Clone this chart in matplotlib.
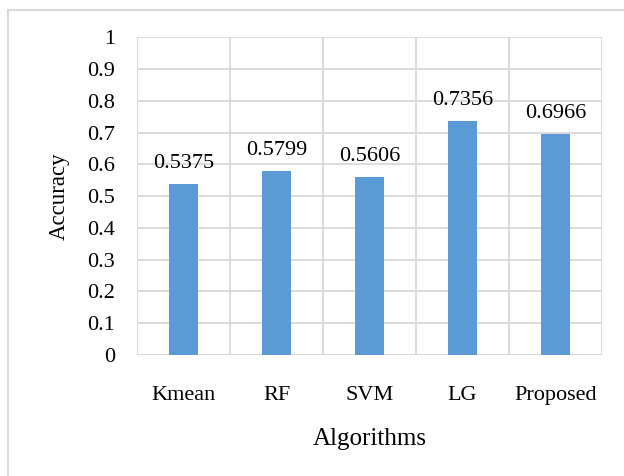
import matplotlib.pyplot as plt
from matplotlib.patches import Rectangle

# data
algorithms = ['Kmean', 'RF', 'SVM', 'LG', 'Proposed']
accuracy = [0.5375, 0.5799, 0.5606, 0.7356, 0.6966]
yticks = [0, 0.1, 0.2, 0.3, 0.4, 0.5, 0.6, 0.7, 0.8, 0.9, 1]

plt.rcParams['font.family'] = ['Liberation Serif', 'DejaVu Serif']
grid_col = '#d9d9d9'

fig = plt.figure(figsize=(6.24, 4.76), dpi=100)
ax = fig.add_axes([0.2196, 0.2542, 0.7451, 0.6674])

x = list(range(len(algorithms)))
ax.bar(x, accuracy, width=0.316, color='#5b9bd5', zorder=3)

for xi, v in zip(x, accuracy):
    ax.text(xi, v + 0.05, f'{v:.4f}', ha='center', va='baseline', fontsize=16)

ax.set_xlim(-0.5, len(algorithms) - 0.5)
ax.set_ylim(0, 1)
ax.set_yticks(yticks)
ax.set_yticklabels([f'{t:g}' for t in yticks], fontsize=16)
ax.set_xticks(x)
ax.set_xticklabels(algorithms, fontsize=16)
ax.tick_params(axis='y', length=0, pad=16)
ax.tick_params(axis='x', length=0, pad=22)

# category boundary lines and horizontal grid
for b in [i - 0.5 for i in range(len(algorithms) + 1)]:
    ax.axvline(b, color=grid_col, lw=1.3, zorder=1)
ax.yaxis.grid(True, color=grid_col, lw=1.3, zorder=1)
for s in ax.spines.values():
    s.set_visible(False)
ax.axhline(0, color=grid_col, lw=1.3, zorder=2)

ax.set_xlabel('Algorithms', fontsize=18, labelpad=17)
ax.set_ylabel('Accuracy', fontsize=16.5, labelpad=12)

# chart border (only top and left edges fall inside the image)
fig.patches.append(Rectangle((0.0128, -0.05), 1.1, 1.029, transform=fig.transFigure,
                             fill=False, edgecolor=grid_col, lw=1.5))

plt.savefig('out.png', dpi=100)
